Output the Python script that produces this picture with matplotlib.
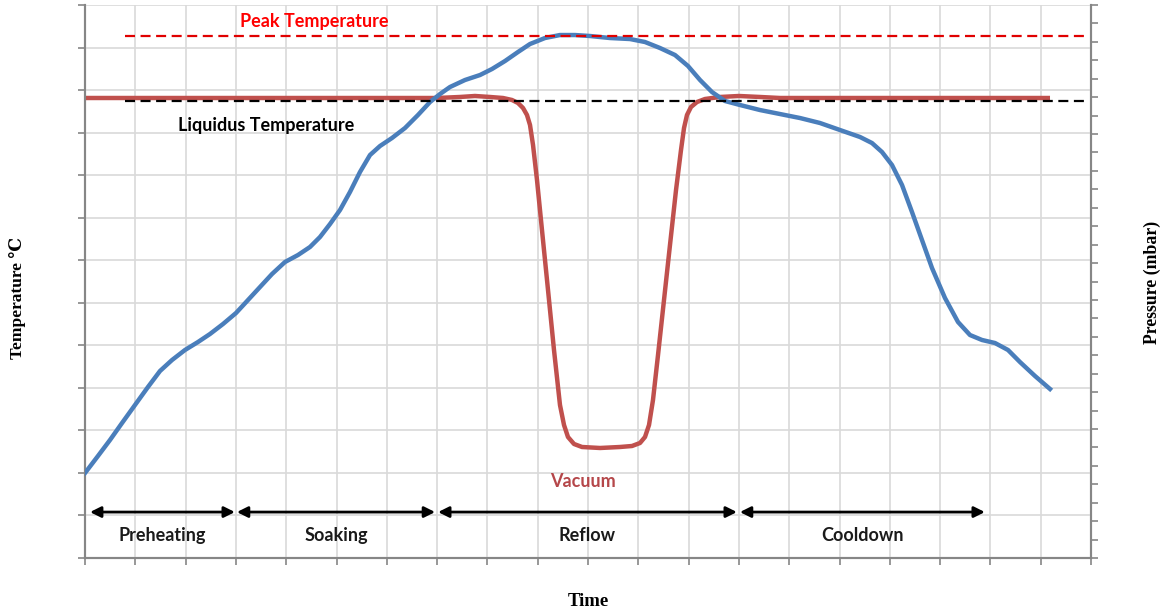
import matplotlib
matplotlib.use("Agg")

import matplotlib.pyplot as plt

# ------------------------------------------------------------------ #
# Data (time in grid units, temperature / pressure in axis units)      #
# ------------------------------------------------------------------ #
time_temp = [0.0, 0.258, 0.497, 0.736, 0.994, 1.252, 1.491, 1.73, 1.988,
             2.247, 2.485, 2.744, 3.002, 3.241, 3.479, 3.718, 3.976, 4.235,
             4.473, 4.672, 4.871, 5.07, 5.268, 5.467, 5.666, 5.865, 6.103,
             6.362, 6.62, 6.859, 7.058, 7.256, 7.555, 7.853, 8.091, 8.35,
             8.608, 8.847, 9.145, 9.443, 9.742, 10.04, 10.437, 10.835, 11.133,
             11.431, 11.73, 11.988, 12.227, 12.465, 12.724, 13.022, 13.419,
             13.817, 14.215, 14.612, 15.01, 15.408, 15.646, 15.845, 16.044,
             16.243, 16.441, 16.64, 16.839, 17.097, 17.356, 17.594, 17.833,
             18.091, 18.35, 18.588, 18.887, 19.185]
temperature = [1.998, 2.398, 2.774, 3.173, 3.597, 4.02, 4.396, 4.654, 4.89,
               5.078, 5.266, 5.501, 5.759, 6.065, 6.37, 6.676, 6.958, 7.123,
               7.311, 7.546, 7.851, 8.181, 8.604, 9.074, 9.473, 9.685, 9.873,
               10.108, 10.414, 10.719, 10.907, 11.072, 11.237, 11.354, 11.495,
               11.683, 11.895, 12.083, 12.224, 12.294, 12.294, 12.271, 12.224,
               12.2, 12.13, 11.989, 11.824, 11.566, 11.237, 10.954, 10.743,
               10.649, 10.531, 10.437, 10.343, 10.226, 10.061, 9.897, 9.755,
               9.544, 9.238, 8.768, 8.134, 7.475, 6.817, 6.112, 5.548, 5.242,
               5.125, 5.054, 4.89, 4.607, 4.278, 3.973]

time_press = [0.0, 6.998, 7.455, 7.753, 8.052, 8.31, 8.489, 8.608, 8.708,
              8.787, 8.847, 8.907, 8.986, 9.085, 9.205, 9.324, 9.443, 9.523,
              9.602, 9.722, 9.881, 10.239, 10.636, 10.875, 11.034, 11.133,
              11.213, 11.292, 11.392, 11.511, 11.63, 11.75, 11.849, 11.909,
              11.968, 12.048, 12.167, 12.326, 12.624, 13.002, 13.419, 13.817,
              19.185]
pressure = [24.955, 24.955, 25.01, 25.064, 25.01, 24.955, 24.847, 24.684,
            24.413, 24.033, 23.491, 22.405, 20.507, 17.794, 14.539, 11.284,
            8.3, 7.215, 6.564, 6.185, 6.022, 5.968, 6.022, 6.076, 6.239,
            6.564, 7.215, 8.572, 11.013, 13.997, 16.981, 19.964, 22.134,
            23.328, 24.033, 24.467, 24.738, 24.901, 25.01, 25.064, 25.01,
            24.955, 24.955]

PEAK_TEMP = 12.27
LIQUIDUS_TEMP = 10.74

phases = ["Preheating", "Soaking", "Reflow", "Cooldown"]
phase_start = [0.1, 3.02, 7.02, 13.02]
phase_end = [2.98, 6.96, 12.96, 17.89]

BLUE = "#4A7EBB"
RED = "#C0504D"
GRID = "#D9D9D9"
SPINE = "#868686"
LABEL_FONT = ["Lato", "DejaVu Sans"]
SERIF_FONT = ["Liberation Serif", "DejaVu Serif"]

fig = plt.figure(figsize=(11.66, 6.15), dpi=100)
ax = fig.add_axes([85 / 1166, 57 / 615, 1006 / 1166, 553 / 615])
ax2 = ax.twinx()

ax.set_xlim(0, 20)
ax.set_ylim(0, 13)
ax2.set_ylim(0, 30)

ax.set_xticks(range(21))
ax.set_yticks(range(14))
ax2.set_yticks(range(31))
ax.set_xticklabels([])
ax.set_yticklabels([])
ax2.set_yticklabels([])

ax.grid(True, color=GRID, linewidth=1.2, zorder=0)
ax.set_axisbelow(True)
for a in (ax, ax2):
    a.tick_params(length=5, width=1.2, color=SPINE, direction="out")
    a.spines["top"].set_visible(False)
    for s in ("left", "right", "bottom"):
        a.spines[s].set_color(SPINE)
        a.spines[s].set_linewidth(1.5)

# keep everything in the primary axes so the z-order is controllable
ax.set_zorder(ax2.get_zorder() + 1)
ax.patch.set_visible(False)

# Vacuum (pressure) curve, drawn with the pressure axis scale
ax.plot(time_press, pressure, color=RED, linewidth=3.2,
        solid_joinstyle="round", solid_capstyle="butt",
        transform=ax2.transData, zorder=2)

# Temperature curve
ax.plot(time_temp, temperature, color=BLUE, linewidth=3.2,
        solid_joinstyle="round", zorder=3)

# Reference temperatures
ax.plot([0.8, 19.95], [PEAK_TEMP, PEAK_TEMP], color="#E00000",
        linewidth=1.6, dashes=(4.5, 2.5), zorder=4)
ax.plot([0.8, 19.95], [LIQUIDUS_TEMP, LIQUIDUS_TEMP], color="black",
        linewidth=1.6, dashes=(4.5, 2.5), zorder=4)

ax.text(4.55, 12.62, "Peak Temperature", color="#FF0000", fontsize=13,
        fontweight="bold", family=LABEL_FONT, ha="center", va="center")
ax.text(3.6, 10.16, "Liquidus Temperature", color="black", fontsize=13,
        fontweight="bold", family=LABEL_FONT, ha="center", va="center")
ax.text(9.9, 1.81, "Vacuum", color="#B5474A", fontsize=13,
        fontweight="bold", family=LABEL_FONT, ha="center", va="center")

# Phase arrows and labels
for name, x0, x1 in zip(phases, phase_start, phase_end):
    ax.annotate("", xy=(x1, 1.08), xytext=(x0, 1.08),
                arrowprops=dict(arrowstyle="<|-|>", color="black", lw=2,
                                mutation_scale=16, shrinkA=0, shrinkB=0),
                zorder=5)
    ax.text((x0 + x1) / 2, 0.54, name, color="#1A1A1A", fontsize=13,
            fontweight="bold", family=LABEL_FONT, ha="center", va="center")

# Axis titles
fig.text(18 / 1166, 1 - 298 / 615, "Temperature ℃", rotation=90,
         fontsize=12.5, fontweight="bold", family=SERIF_FONT,
         ha="center", va="center")
fig.text(1152 / 1166, 1 - 282 / 615, "Pressure (mbar)", rotation=90,
         fontsize=12.8, fontweight="bold", family=SERIF_FONT,
         ha="center", va="center")
fig.text(588 / 1166, 1 - 601 / 615, "Time", fontsize=13.5, fontweight="bold",
         family=SERIF_FONT, ha="center", va="center")

fig.savefig("out.png", dpi=100)
plt.close(fig)
